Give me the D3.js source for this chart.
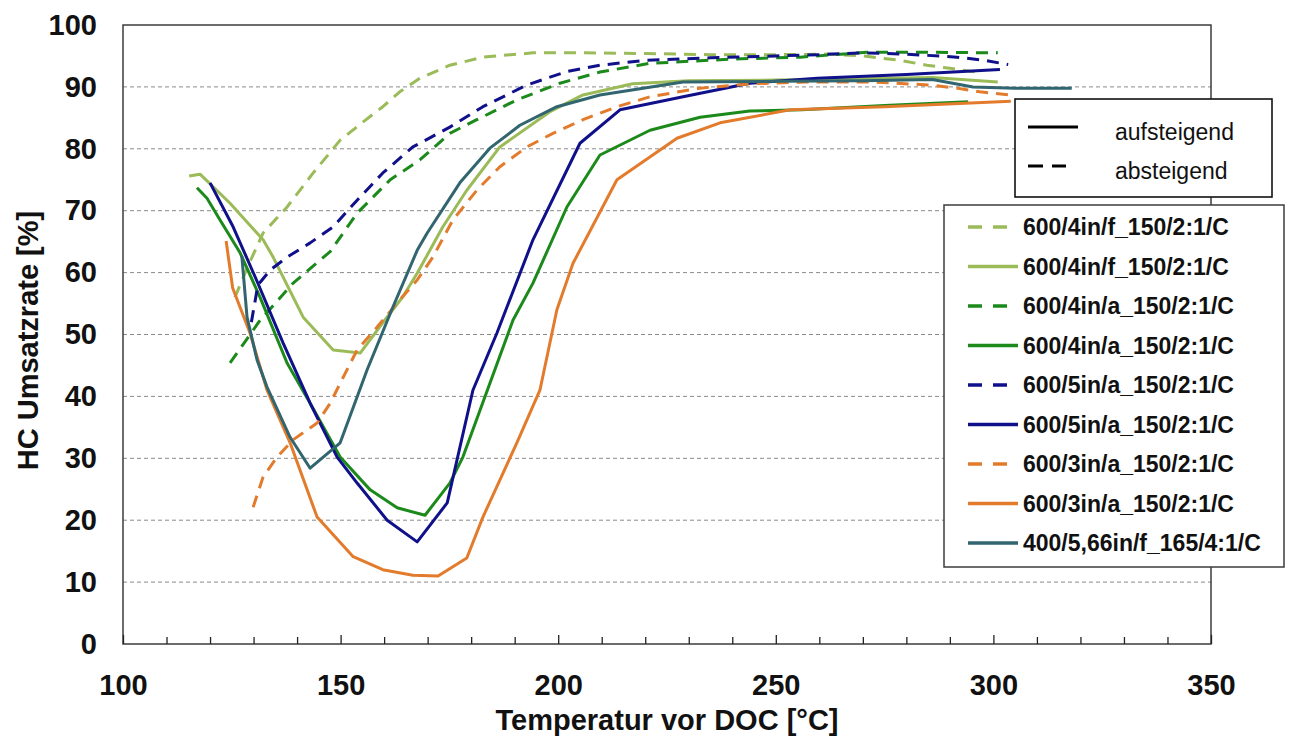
<!DOCTYPE html>
<html>
<head>
<meta charset="utf-8">
<script src="https://cdn.jsdelivr.net/npm/d3@7/dist/d3.min.js"></script>
<style>
  html, body { margin: 0; padding: 0; background: #fff; }
  svg { display: block; font-family: "Liberation Sans", Arial, sans-serif; }
</style>
</head>
<body>
<svg id="chart" width="1290" height="738"></svg>
<script>
// Axis settings
const xDomain = [100, 350];
const yDomain = [0, 100];
const xMajorTicks = [100, 150, 200, 250, 300, 350];
const xMinorTicks = [110, 120, 130, 140, 160, 170, 180, 190, 210, 220, 230, 240, 260, 270, 280, 290, 310, 320, 330, 340];
const yTicks = [0, 10, 20, 30, 40, 50, 60, 70, 80, 90, 100];
const yGrid = [10, 20, 30, 40, 50, 60, 70, 80, 90];

// 600/4in/f_150/2:1/C, absteigend
const t4f_ab = [125.7, 129, 132.2, 137.7, 143.7, 149.9, 155.1, 159.7, 163.6, 168.2, 175.1, 182.7, 194.2, 205.7, 220, 235, 250, 262, 270, 278.5, 284.7, 290, 296];
const v4f_ab = [56, 61.5, 66.4, 70.6, 76.1, 81.4, 84.3, 86.8, 89.2, 91.4, 93.5, 94.8, 95.5, 95.5, 95.4, 95.2, 95.2, 95.3, 95.0, 94.3, 93.5, 93, 92.4];
// 600/4in/f_150/2:1/C, aufsteigend
const t4f_auf = [115.2, 117.7, 124.6, 132.2, 134.5, 141.4, 148.3, 154.5, 159.7, 164.3, 167.6, 173.5, 179, 186.6, 198.1, 205.7, 217.1, 230, 250, 270, 286, 301];
const v4f_auf = [75.6, 75.9, 71.2, 65.3, 62.5, 52.8, 47.5, 47, 51.9, 56.1, 59.9, 67.4, 73.3, 80.3, 86, 88.7, 90.5, 91, 91.1, 91.3, 91.5, 90.8];
// 600/4in/a_150/2:1/C, absteigend
const t4a_ab = [124.6, 131.5, 139.1, 147.6, 153.8, 161.4, 168.2, 175.1, 181.3, 190.5, 200.4, 209.6, 221, 240, 255.6, 271, 286, 301];
const v4a_ab = [45.4, 52.3, 58.3, 63.4, 69.6, 75, 78.2, 82.5, 84.7, 87.9, 90.6, 92.4, 93.8, 94.5, 94.8, 95.6, 95.6, 95.5];
// 600/4in/a_150/2:1/C, aufsteigend
const t4a_auf = [117, 119.3, 122.3, 126.9, 131.5, 137.7, 143, 149.9, 156.8, 163, 169.4, 175.1, 178.1, 189.6, 194.2, 202, 209.6, 221.1, 232.6, 244, 256, 275, 294.2];
const v4a_auf = [73.7, 72, 68.5, 63.2, 56, 45.4, 38.9, 30.2, 24.9, 22, 20.8, 26, 30.2, 52.3, 58.3, 70.6, 79, 83, 85.1, 86.1, 86.3, 87, 87.6];
// 600/5in/a_150/2:1/C, absteigend
const t5a_ab = [129.5, 131, 133.8, 137.7, 143, 148.3, 153.8, 159.7, 166.6, 175.1, 182.7, 192.8, 202, 209.6, 220, 235, 250, 260, 270, 280, 291.6, 298, 303.4];
const v5a_ab = [52, 58, 60.4, 62.5, 64.8, 67.4, 71.7, 76.1, 80.3, 83.5, 86.8, 90.3, 92.5, 93.5, 94.3, 94.7, 95, 95.2, 95.5, 95.3, 94.8, 94.3, 93.6];
// 600/5in/a_150/2:1/C, aufsteigend
const t5a_auf = [120, 125.3, 130.8, 136.8, 143, 149.2, 153.8, 160.7, 167.6, 174.5, 180.4, 185.9, 194.2, 205, 214.2, 228.7, 244, 259.5, 280, 301.5];
const v5a_auf = [74.5, 67.4, 58.6, 48.6, 38.9, 30.2, 26, 20, 16.5, 22.8, 41, 50.2, 65.3, 80.9, 86.3, 88.4, 90.6, 91.4, 92, 92.8];
// 600/3in/a_150/2:1/C, absteigend
const t3a_ab = [129.9, 132.2, 135.4, 139.1, 144.6, 147.6, 150.6, 153.8, 158.4, 163, 167.6, 171.2, 175.8, 181.3, 186.6, 192.8, 198.8, 205.7, 213.5, 221.1, 232.6, 244, 258, 272, 285.4, 291.6, 296.9, 304];
const v3a_ab = [22.1, 27, 30.2, 33, 35.7, 38.9, 43.1, 47.5, 51.2, 55.1, 58.8, 62.5, 68.5, 73.3, 77.1, 80.3, 82.5, 84.7, 86.8, 88.4, 89.8, 90.5, 90.8, 90.8, 90.3, 89.8, 89.2, 88.7];
// 600/3in/a_150/2:1/C, aufsteigend
const t3a_auf = [123.7, 125.2, 129.2, 133.1, 138.4, 144.6, 152.9, 159.7, 166.6, 172.4, 179, 182.7, 190.5, 195.8, 199.7, 203.4, 213.5, 227.3, 237.2, 253.3, 275, 304];
const v3a_auf = [65.1, 57.5, 50.2, 41, 32.5, 20.5, 14.1, 12, 11.1, 11, 13.9, 20.5, 32.5, 41, 54, 61.5, 75, 81.7, 84.2, 86.3, 86.8, 87.7];
// 400/5,66in/f_165/4:1/C, aufsteigend
const t566f_auf = [127.3, 128.5, 130.8, 133.1, 138.4, 143, 149.9, 156.1, 162, 167.6, 169.9, 177.4, 184.3, 191.2, 199.7, 209.6, 228.7, 250, 270, 286, 295.3, 305, 318];
const v566f_auf = [62.7, 52.8, 45.9, 41.5, 33.4, 28.4, 32.5, 44.3, 54.4, 63.6, 66.4, 74.5, 80.1, 83.8, 86.8, 88.7, 90.8, 90.9, 91, 91.2, 90, 89.8, 89.8];

const seriesNames = [
  "600/4in/f_150/2:1/C", "600/4in/f_150/2:1/C",
  "600/4in/a_150/2:1/C", "600/4in/a_150/2:1/C",
  "600/5in/a_150/2:1/C", "600/5in/a_150/2:1/C",
  "600/3in/a_150/2:1/C", "600/3in/a_150/2:1/C",
  "400/5,66in/f_165/4:1/C"
];
const seriesDashed = [true, false, true, false, true, false, true, false, false];
const seriesColors = ["#9BBB59", "#9BBB59", "#1B8A1B", "#1B8A1B", "#10108A", "#10108A", "#E37B2C", "#E37B2C", "#31656F"];
const seriesT = [t4f_ab, t4f_auf, t4a_ab, t4a_auf, t5a_ab, t5a_auf, t3a_ab, t3a_auf, t566f_auf];
const seriesV = [v4f_ab, v4f_auf, v4a_ab, v4a_auf, v5a_ab, v5a_auf, v3a_ab, v3a_auf, v566f_auf];

const directionLabels = ["aufsteigend", "absteigend"];
const xTitle = "Temperatur vor DOC [°C]";
const yTitle = "HC Umsatzrate [%]";

const series = seriesNames.map((name, i) => ({
  name,
  dashed: seriesDashed[i],
  color: seriesColors[i],
  points: seriesT[i].map((t, j) => ({ t, v: seriesV[i][j] }))
}));

const svg = d3.select("#chart");
const plot = { left: 123, right: 1211, top: 25, bottom: 644 };

const x = d3.scaleLinear().domain(xDomain).range([plot.left, plot.right]);
const y = d3.scaleLinear().domain(yDomain).range([plot.bottom, plot.top]);

// Horizontal grid lines
svg.append("g")
  .selectAll("line")
  .data(yGrid)
  .join("line")
  .attr("x1", plot.left).attr("x2", plot.right)
  .attr("y1", d => y(d)).attr("y2", d => y(d))
  .attr("stroke", "#8a8a8a")
  .attr("stroke-width", 1)
  .attr("stroke-dasharray", "4,3");

// Plot frame
svg.append("rect")
  .attr("x", plot.left).attr("y", plot.top)
  .attr("width", plot.right - plot.left)
  .attr("height", plot.bottom - plot.top)
  .attr("fill", "none")
  .attr("stroke", "#3c3c3c")
  .attr("stroke-width", 1.5);

// Minor ticks on the x axis (pointing into the plot)
const xMinor = svg.append("g")
  .attr("transform", `translate(0,${plot.bottom})`)
  .call(d3.axisBottom(x).tickValues(xMinorTicks).tickSize(-7).tickFormat(""));
xMinor.select(".domain").remove();
xMinor.selectAll(".tick line").attr("stroke", "#222").attr("stroke-width", 1.3);

// Major ticks with labels
const xMajor = svg.append("g")
  .attr("transform", `translate(0,${plot.bottom})`)
  .call(d3.axisBottom(x).tickValues(xMajorTicks).tickSize(-9).tickPadding(30).tickFormat(d3.format("d")));
xMajor.select(".domain").remove();
xMajor.selectAll(".tick line").attr("stroke", "#222").attr("stroke-width", 1.3);
xMajor.selectAll(".tick text")
  .attr("fill", "#111")
  .style("font-size", "29px")
  .style("font-weight", "bold");

// Y axis labels
const yAxis = svg.append("g")
  .attr("transform", `translate(${plot.left},0)`)
  .call(d3.axisLeft(y).tickValues(yTicks).tickSize(0).tickPadding(26).tickFormat(d3.format("d")));
yAxis.select(".domain").remove();
yAxis.selectAll(".tick text")
  .attr("fill", "#111")
  .style("font-size", "29px")
  .style("font-weight", "bold");

// Axis titles
svg.append("text")
  .attr("x", (plot.left + plot.right) / 2)
  .attr("y", 730)
  .attr("text-anchor", "middle")
  .attr("fill", "#111")
  .style("font-size", "29px")
  .style("font-weight", "bold")
  .text(xTitle);

svg.append("text")
  .attr("transform", `translate(38,${(plot.top + plot.bottom) / 2 + 6}) rotate(-90)`)
  .attr("text-anchor", "middle")
  .attr("fill", "#111")
  .style("font-size", "29px")
  .style("font-weight", "bold")
  .text(yTitle);

// Series lines
const line = d3.line().x(d => x(d.t)).y(d => y(d.v)).curve(d3.curveLinear);
svg.append("g")
  .selectAll("path")
  .data(series)
  .join("path")
  .attr("d", d => line(d.points))
  .attr("fill", "none")
  .attr("stroke", d => d.color)
  .attr("stroke-width", 3)
  .attr("stroke-linejoin", "round")
  .attr("stroke-dasharray", d => d.dashed ? "12,8" : null);

// Legend: line style meaning
const lg1 = svg.append("g");
lg1.append("rect")
  .attr("x", 1015).attr("y", 99).attr("width", 257).attr("height", 98)
  .attr("fill", "#fff").attr("stroke", "#111").attr("stroke-width", 1.6);
directionLabels.forEach((label, i) => {
  const yy = 127 + i * 39;
  lg1.append("line")
    .attr("x1", 1028).attr("x2", i === 0 ? 1078 : 1066)
    .attr("y1", yy).attr("y2", yy)
    .attr("stroke", "#000").attr("stroke-width", 3)
    .attr("stroke-dasharray", i === 0 ? null : "15,9");
  lg1.append("text")
    .attr("x", 1115).attr("y", yy + 13)
    .attr("fill", "#111")
    .style("font-size", "23px")
    .text(label);
});

// Legend: series
const lg2 = svg.append("g");
lg2.append("rect")
  .attr("x", 944).attr("y", 205).attr("width", 340).attr("height", 362)
  .attr("fill", "#fff").attr("stroke", "#3c3c3c").attr("stroke-width", 1.5);
const legendRow = d3.scaleLinear().domain([0, series.length - 1]).range([227, 543]);
const rows = lg2.selectAll("g.row")
  .data(series)
  .join("g")
  .attr("class", "row")
  .attr("transform", (d, i) => `translate(0,${legendRow(i)})`);
rows.append("line")
  .attr("x1", 968).attr("x2", d => d.dashed ? 1008 : 1018)
  .attr("y1", 0).attr("y2", 0)
  .attr("stroke", d => d.color)
  .attr("stroke-width", 3.5)
  .attr("stroke-dasharray", d => d.dashed ? "14,11" : null);
rows.append("text")
  .attr("x", 1023).attr("y", 8)
  .attr("fill", "#111")
  .style("font-size", "23px")
  .style("font-weight", "bold")
  .text(d => d.name);
</script>
</body>
</html>
